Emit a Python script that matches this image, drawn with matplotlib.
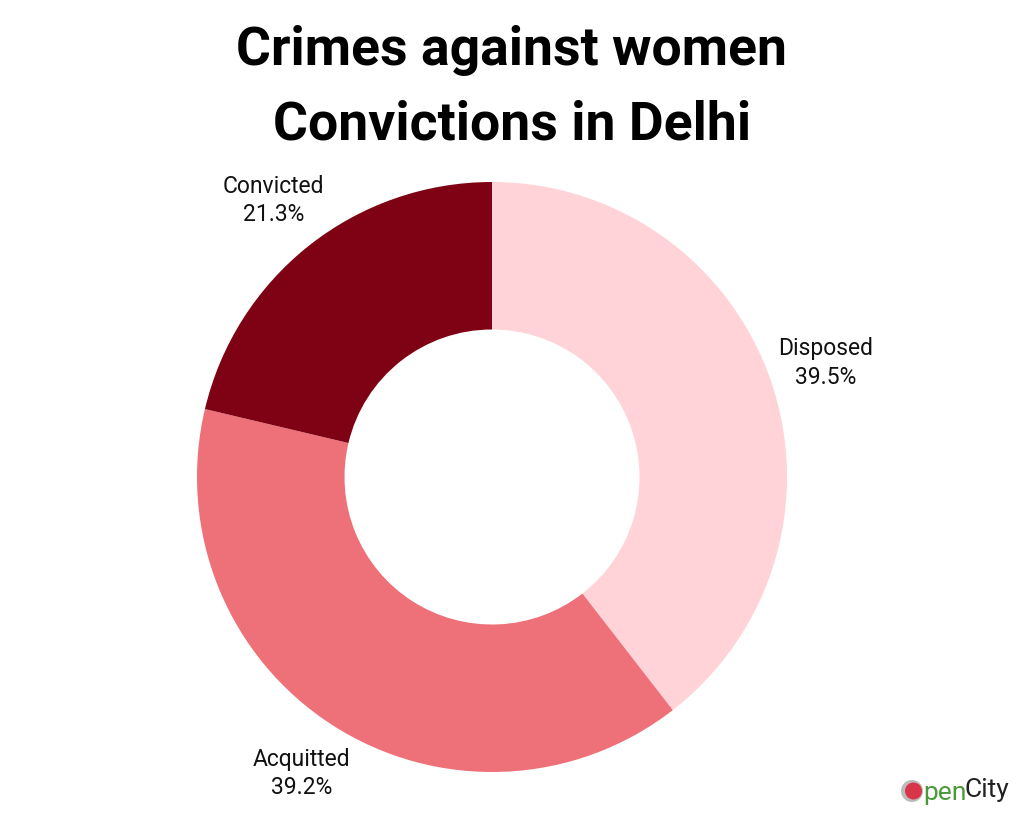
import matplotlib
matplotlib.use("Agg")
import matplotlib.pyplot as plt
from matplotlib.patches import Circle
import numpy as np

categories = ["Disposed", "Acquitted", "Convicted"]
values = [39.5, 39.2, 21.3]
colors = ["#FFD3D8", "#EE7079", "#7E0213"]

plt.rcParams['font.family'] = ['Roboto', 'DejaVu Sans']

W, H = 1024, 819
fig = plt.figure(figsize=(W / 100, H / 100), dpi=100)
ax = fig.add_axes([0, 0, 1, 1])

cx, cy, R = 492, H - 477, 295
wedges, _ = ax.pie(values, colors=colors, startangle=90, counterclock=False,
                   radius=R, center=(cx, cy), frame=True,
                   wedgeprops=dict(width=R * 0.5, linewidth=0))
ax.set_xlim(0, W)
ax.set_ylim(0, H)
ax.set_aspect('equal')
ax.axis('off')

for w, name, v in zip(wedges, categories, values):
    ang = np.deg2rad((w.theta1 + w.theta2) / 2)
    r = R * 1.195
    ax.text(cx + r * np.cos(ang), cy + r * np.sin(ang), f"{name}\n{v:.1f}%",
            ha='center', va='center', fontsize=16.5, color='#111111', linespacing=1.3)

fig.text(0.5, 1 - 51 / H, "Crimes against women", ha='center', va='center',
         fontsize=38.5, fontweight='bold', color='black')
fig.text(0.5, 1 - 125 / H, "Convictions in Delhi", ha='center', va='center',
         fontsize=38.5, fontweight='bold', color='black')

# OpenCity logo
lx, ly = 912, H - 791
ax.add_patch(Circle((lx, ly), 11, color='#BBBBBB', linewidth=0))
ax.add_patch(Circle((lx + 1.5, ly), 8.5, color='#D8344A', linewidth=0))
ax.text(lx + 11, ly - 2, "pen", ha='left', va='center', fontsize=19, color='#4A9A3A')
ax.text(lx + 52, ly + 1, "City", ha='left', va='center', fontsize=19, color='#222222')

fig.savefig("out.png", dpi=100)
